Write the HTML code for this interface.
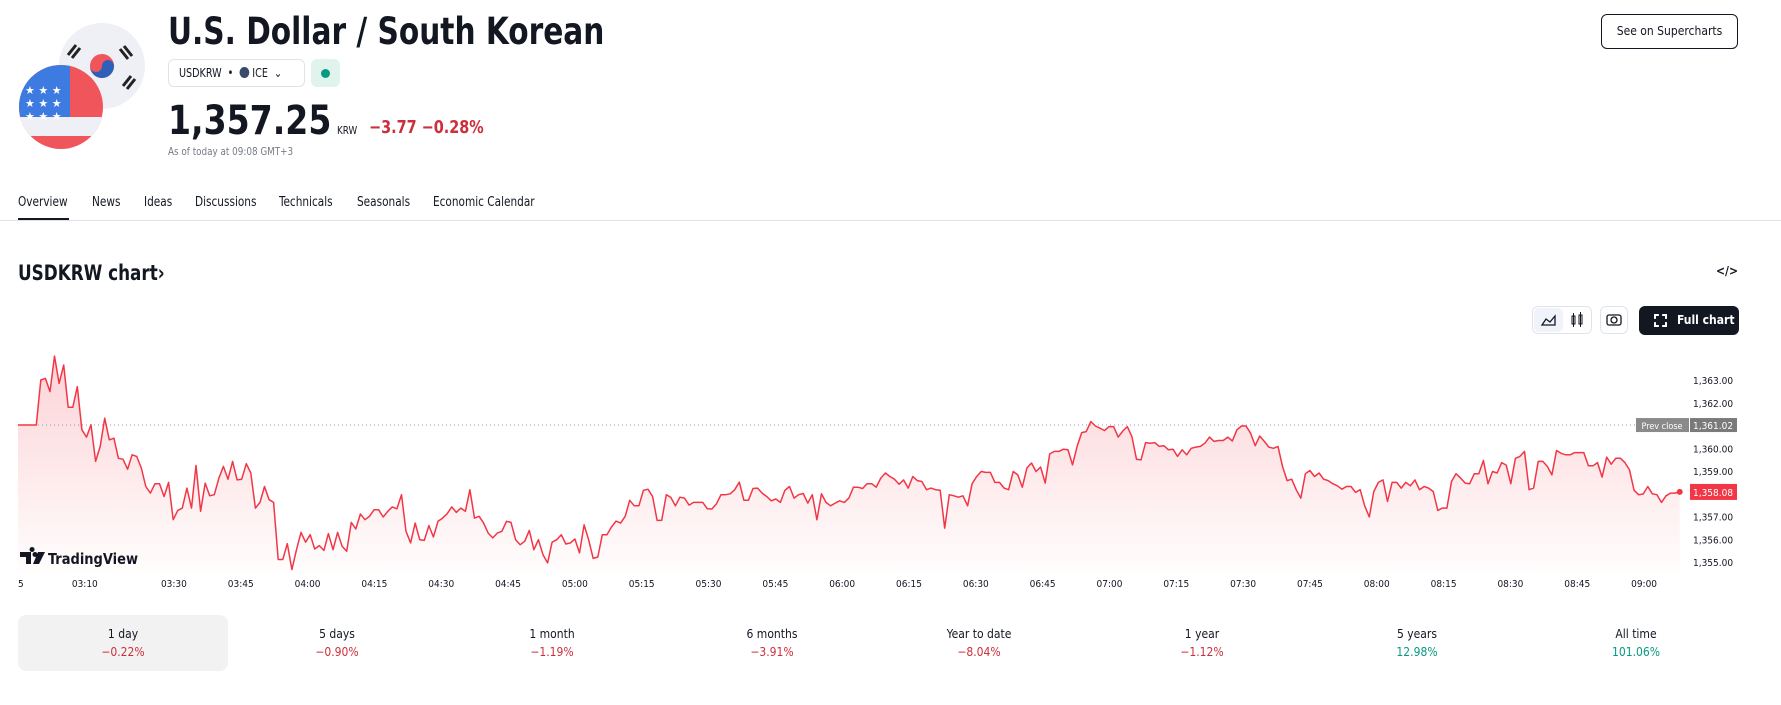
<!DOCTYPE html>
<html><head><meta charset="utf-8">
<style>
*{box-sizing:border-box;margin:0;padding:0}
body{width:1781px;height:705px;overflow:hidden;background:#fff;font-family:"DejaVu Sans Condensed","DejaVu Sans","Liberation Sans",sans-serif;color:#131722;position:relative}
.abs{position:absolute}
.sx{transform:scaleX(0.89);transform-origin:0 0;white-space:nowrap}
.tab{position:absolute;top:195px;font-size:13px;color:#131722;transform:scaleX(0.9);transform-origin:0 0;white-space:nowrap}
.card{position:absolute;top:615px;width:210px;height:56px;text-align:center;border-radius:8px}
.card .l{font-size:12px;margin-top:12px;color:#131722}
.card .p{font-size:12px;margin-top:4px}
.red{color:#cc2f3c}.green{color:#089981}
</style></head><body>
<svg class="abs" style="left:0;top:0" width="160" height="160">
 <circle cx="102" cy="66" r="43" fill="#eef0f6"/>
 <circle cx="102" cy="66" r="12" fill="#f0555b"/>
 <path d="M90 66 a12 12 0 0 0 24 0 a6 6 0 0 0 -12 0 a6 6 0 0 1 -12 0z" fill="#2f5fb8"/>
 <g stroke="#222" stroke-width="3"><line x1="68" y1="55" x2="76" y2="45"/><line x1="72" y1="58" x2="80" y2="48"/><line x1="124" y1="46" x2="132" y2="56"/><line x1="120" y1="49" x2="128" y2="59"/><line x1="123" y1="86" x2="131" y2="76"/><line x1="127" y1="89" x2="135" y2="79"/></g>
 <clipPath id="us"><circle cx="61" cy="107" r="42"/></clipPath>
 <g clip-path="url(#us)"><rect x="0" y="60" width="130" height="100" fill="#f0555b"/><rect x="0" y="117" width="130" height="19" fill="#eef0f6"/><rect x="0" y="60" width="70" height="57" fill="#3d7be0"/>
 <g fill="#fff" font-size="11" font-family="DejaVu Sans"><text x="25" y="94">★ ★ ★</text><text x="25" y="107">★ ★ ★</text><text x="25" y="120">★ ★ ★</text></g></g>
</svg>
<div class="abs sx" style="left:168px;top:10px;font-size:37px;font-weight:bold">U.S. Dollar / South Korean</div>
<div class="abs" style="left:168px;top:59px;width:137px;height:28px;border:1px solid #e0e3eb;border-radius:6px;font-size:12px;line-height:26px;padding-left:10px"><span class="sx" style="display:inline-block">USDKRW &nbsp;•&nbsp; <span style="display:inline-block;width:11px;height:11px;border-radius:50%;background:#3a4a6b;vertical-align:-1px"></span> ICE &nbsp;⌄</span></div>
<div class="abs" style="left:311px;top:59px;width:29px;height:28px;background:#e0f3ec;border-radius:6px"><div style="position:absolute;left:10px;top:10px;width:9px;height:9px;border-radius:50%;background:#089981"></div></div>
<div class="abs sx" style="left:168px;top:98px;font-size:40px;font-weight:bold;transform:scaleX(0.92)">1,357.25</div>
<div class="abs sx" style="left:337px;top:124px;font-size:11px">KRW</div>
<div class="abs sx" style="left:369px;top:117px;font-size:18px;font-weight:bold;color:#cc2f3c">−3.77 −0.28%</div>
<div class="abs sx" style="left:168px;top:145px;font-size:11px;color:#787b86">As of today at 09:08 GMT+3</div>
<div class="abs" style="left:1601px;top:14px;width:137px;height:35px;border:1px solid #131722;border-radius:6px;font-size:12px;text-align:center;line-height:33px">See on Supercharts</div>
<div class="tab" style="left:18px">Overview</div>
<div class="abs" style="left:18px;top:218px;width:51px;height:3px;background:#131722"></div>
<div class="tab" style="left:92px">News</div>
<div class="tab" style="left:144px">Ideas</div>
<div class="tab" style="left:195px">Discussions</div>
<div class="tab" style="left:279px">Technicals</div>
<div class="tab" style="left:357px">Seasonals</div>
<div class="tab" style="left:433px">Economic Calendar</div>
<div class="abs" style="left:0;top:220px;width:1781px;height:1px;background:#e0e3eb"></div>
<div class="abs sx" style="left:18px;top:261px;font-size:21px;font-weight:bold">USDKRW chart›</div>
<div class="abs" style="left:1716px;top:264px;font-size:12px;font-weight:bold">&lt;/&gt;</div>
<div class="abs" style="left:1532px;top:306px;width:60px;height:28px;border:1px solid #e0e3eb;border-radius:6px">
 <div style="position:absolute;left:1px;top:1px;width:29px;height:24px;background:#f0f3fa;border-radius:5px"><svg width="29" height="24"><path d="M8 17 L12 11 L16 14 L21 8 L21 17Z" fill="none" stroke="#131722" stroke-width="1.3"/></svg></div>
 <div style="position:absolute;left:31px;top:1px;width:27px;height:24px"><svg width="27" height="24"><rect x="8" y="8" width="3" height="8" fill="none" stroke="#131722"/><rect x="15" y="7" width="3" height="9" fill="none" stroke="#131722"/><line x1="9.5" y1="5" x2="9.5" y2="19" stroke="#131722"/><line x1="16.5" y1="4" x2="16.5" y2="19" stroke="#131722"/></svg></div>
</div>
<div class="abs" style="left:1600px;top:306px;width:28px;height:28px;border:1px solid #e0e3eb;border-radius:6px"><svg width="26" height="26"><rect x="6" y="8" width="14" height="10" rx="2" fill="none" stroke="#131722" stroke-width="1.3"/><circle cx="13" cy="13" r="3" fill="none" stroke="#131722" stroke-width="1.3"/></svg></div>
<div class="abs" style="left:1639px;top:306px;width:100px;height:29px;background:#131722;border-radius:6px;color:#fff;font-size:12px;font-weight:bold;line-height:29px;padding-left:38px"><span style="position:absolute;left:15px;top:8px;width:13px;height:13px;border:2px dashed #fff"></span>Full chart</div>

<svg id="chart" class="abs" style="left:0;top:0" width="1781" height="705"></svg>

<div class="card" style="left:18px;background:#f2f2f2"><div class="l">1 day</div><div class="p red">−0.22%</div></div>
<div class="card" style="left:232px"><div class="l">5 days</div><div class="p red">−0.90%</div></div>
<div class="card" style="left:447px"><div class="l">1 month</div><div class="p red">−1.19%</div></div>
<div class="card" style="left:667px"><div class="l">6 months</div><div class="p red">−3.91%</div></div>
<div class="card" style="left:874px"><div class="l">Year to date</div><div class="p red">−8.04%</div></div>
<div class="card" style="left:1097px"><div class="l">1 year</div><div class="p red">−1.12%</div></div>
<div class="card" style="left:1312px"><div class="l">5 years</div><div class="p green">12.98%</div></div>
<div class="card" style="left:1531px"><div class="l">All time</div><div class="p green">101.06%</div></div>

<script>
const prices = [1361.02,1361.02,1361.02,1361.02,1361.02,
1363.00,1363.07,1362.49,1364.05,1362.85,1363.66,1361.80,1361.80,1362.71,1360.81,1360.49,1361.03,1359.42,1360.08,1361.32,1360.37,1360.44,1359.56,1359.52,1359.08,1359.71,1359.64,1359.13,1358.32,1358.03,1358.44,1358.44,1357.88,1358.50,1356.86,1357.27,1357.37,1358.25,1357.37,1359.24,1357.23,1358.47,1357.91,1357.96,1358.69,1359.20,1358.64,1359.42,1358.61,1358.64,1359.32,1358.91,1357.37,1357.62,1358.32,1357.74,1357.62,1355.11,1355.11,1355.81,1354.67,1355.54,1356.30,1355.87,1356.20,1355.57,1355.72,1355.51,1356.25,1355.54,1356.30,1355.69,1355.47,1356.74,1356.45,1357.11,1356.86,1357.01,1357.30,1357.30,1356.98,1357.23,1357.42,1357.34,1357.96,1356.35,1355.84,1356.71,1355.98,1355.95,1356.60,1356.10,1356.79,1356.93,1357.12,1357.42,1357.18,1357.37,1357.23,1358.18,1356.93,1357.01,1356.71,1356.27,1356.06,1356.27,1356.35,1356.79,1356.74,1355.98,1355.76,1355.91,1356.39,1355.54,1355.98,1355.32,1354.96,1355.87,1355.98,1356.20,1355.79,1355.84,1356.01,1355.40,1356.63,1355.98,1355.16,1355.22,1356.20,1356.20,1356.54,1356.80,1356.71,1357.01,1357.71,1357.47,1357.47,1358.15,1358.20,1357.88,1356.83,1356.83,1357.96,1357.84,1357.47,1357.85,1357.81,1357.50,1357.62,1357.62,1357.62,1357.34,1357.33,1357.56,1357.96,1357.96,1358.00,1358.18,1358.51,1357.71,1357.71,1358.23,1358.25,1358.03,1357.88,1357.69,1357.77,1357.62,1358.15,1358.32,1357.81,1357.96,1358.01,1357.59,1357.96,1356.86,1358.00,1357.62,1357.47,1357.59,1357.69,1357.62,1357.81,1358.29,1358.29,1358.23,1358.44,1358.44,1358.29,1358.69,
1358.91,1358.76,1358.64,1358.42,1358.61,1358.25,1358.76,1358.58,1358.54,1358.18,1358.25,1358.18,1358.15,1356.49,1357.96,1357.91,1357.85,1357.91,1357.47,1358.44,1358.76,1358.98,1358.94,1358.94,1358.50,1358.50,1358.25,1358.18,1358.98,1358.83,1358.29,1359.13,1359.35,1358.98,1359.17,1358.47,1359.75,1359.86,1359.86,1359.96,1359.93,1359.27,1360.08,1360.69,1360.73,1361.17,1360.98,1360.88,1360.78,1360.95,1360.95,1360.49,1360.76,1360.95,1360.51,1359.52,1359.49,1360.25,1360.22,1360.25,1360.08,1360.11,1359.93,1359.96,1359.64,1359.93,1359.71,1360.00,1360.05,1360.08,1360.22,1360.49,1360.30,1360.34,1360.34,1360.49,1360.32,1360.81,1360.98,1360.98,1360.66,1360.11,1360.54,1360.30,1360.05,1360.00,1360.08,1359.20,1358.58,1358.64,1358.18,1357.81,1358.88,1359.02,1358.76,1358.91,1358.64,1358.58,1358.44,1358.35,1358.20,1358.32,1358.32,1358.06,1358.18,1357.47,1356.98,1358.10,1358.50,1358.61,1357.66,1358.50,1358.50,1358.25,1358.50,1358.35,1358.61,1358.18,1358.32,1358.25,1358.10,1357.27,1357.37,1357.37,1358.54,1358.88,1358.69,1358.47,1358.44,1358.88,1358.88,1359.46,1358.44,1358.98,1358.91,1359.37,1359.26,1358.44,1359.56,1359.64,1359.86,1358.18,1358.25,1359.42,1359.42,1359.20,1358.83,1359.90,1359.78,1359.71,1359.71,1359.81,1359.81,1359.81,1359.23,1359.23,1359.37,1358.73,1359.61,1359.30,1359.56,1359.56,1359.37,1359.05,1358.15,1357.96,1357.99,1358.32,1358.00,1357.96,1357.62,1357.91,1358.03,1358.03,1358.08];
const timeLabels = ["03:10","03:30","03:45","04:00","04:15","04:30","04:45","05:00","05:15","05:30","05:45","06:00","06:15","06:30","06:45","07:00","07:15","07:30","07:45","08:00","08:15","08:30","08:45","09:00"];
const timeMinutes = [15,35,50,65,80,95,110,125,140,155,170,185,200,215,230,245,260,275,290,305,320,335,350,365];
const priceTicks = [1355,1356,1357,1358,1359,1360,1361,1362,1363];
const prevClose = 1361.02;
const lastPrice = 1358.08;
const spanMinutes = 373;

const NS="http://www.w3.org/2000/svg";
const svg=document.getElementById('chart');
const FF='DejaVu Sans Condensed, DejaVu Sans, sans-serif';
const xS=m=>18+m*4.455;
const yS=v=>380+(1363-v)*22.75;
const bottom=572;
function mk(tag,attrs,parent){const e=document.createElementNS(NS,tag);for(const k in attrs)e.setAttribute(k,attrs[k]);(parent||svg).appendChild(e);return e;}
const defs=mk('defs',{});
const g=mk('linearGradient',{id:'fillg',x1:0,y1:0,x2:0,y2:1},defs);
mk('stop',{offset:'0','stop-color':'#f23645','stop-opacity':'0.22'},g);
mk('stop',{offset:'1','stop-color':'#f23645','stop-opacity':'0.01'},g);
const n=prices.length;
const pts=prices.map((v,i)=>[xS(i*spanMinutes/(n-1)),yS(v)]);
const lineD=pts.map((p,i)=>(i?'L':'M')+p[0].toFixed(1)+' '+p[1].toFixed(1)).join(' ');
const area=mk('path',{d:lineD+` L${pts[n-1][0].toFixed(1)} ${bottom} L${pts[0][0]} ${bottom} Z`,fill:'url(#fillg)'});


const pc=mk('line',{x1:18,x2:1636,y1:yS(prevClose),y2:yS(prevClose),stroke:'#9598a1','stroke-dasharray':'1 3','stroke-width':1});


const line=mk('path',{d:lineD,fill:'none',stroke:'#f23645','stroke-width':1.5,'stroke-linejoin':'round'});


const dot=mk('circle',{cx:pts[n-1][0],cy:pts[n-1][1],r:3,fill:'#f23645'});


priceTicks.forEach(v=>{
  const t=mk('text',{x:1693,y:yS(v)+4,'font-size':10,fill:'#131722','font-family':FF});
  t.textContent=v.toLocaleString('en-US',{minimumFractionDigits:2});
  
  
});
timeLabels.forEach((s,i)=>{
  const t=mk('text',{x:xS(timeMinutes[i]),y:587,'font-size':10,fill:'#131722','text-anchor':'middle','font-family':FF});
  t.textContent=s;
  
  
});
const t5=mk('text',{x:18,y:587,'font-size':10,fill:'#131722','font-family':FF});t5.textContent='5';


const py=yS(prevClose);
const pb=mk('rect',{x:1636,y:py-7,width:53,height:14,fill:'#8a8a8a'});


const pt=mk('text',{x:1662,y:py+4,'font-size':9,fill:'#fff','text-anchor':'middle','font-family':FF});pt.textContent='Prev close';


const pb2=mk('rect',{x:1690,y:py-7,width:47,height:14,fill:'#7a7a7a'});


const pt2=mk('text',{x:1693,y:py+4,'font-size':10,fill:'#fff','font-family':FF});pt2.textContent=prevClose.toLocaleString('en-US',{minimumFractionDigits:2});


const ly=yS(lastPrice);
const lb=mk('rect',{x:1690,y:ly-8,width:47,height:16,fill:'#f23645'});


const lt=mk('text',{x:1693,y:ly+4,'font-size':10,fill:'#fff','font-family':FF});lt.textContent=lastPrice.toLocaleString('en-US',{minimumFractionDigits:2});


// TradingView watermark logo
const logo=mk('path',{d:'M20 552 h11 v12 h-5 v-7 h-6z M32 552 a2.5 2.5 0 1 1 0.1 0z M38 552 h7 l-6 12 h-6z',fill:'#131722'});


mk('circle',{cx:35,cy:554.5,r:2.5,fill:'#131722'});
const wm=mk('text',{x:48,y:564,'font-size':15,'font-weight':'bold',fill:'#131722','font-family':FF,textLength:90,lengthAdjust:'spacingAndGlyphs'});
wm.textContent='TradingView';


</script>
</body></html>
